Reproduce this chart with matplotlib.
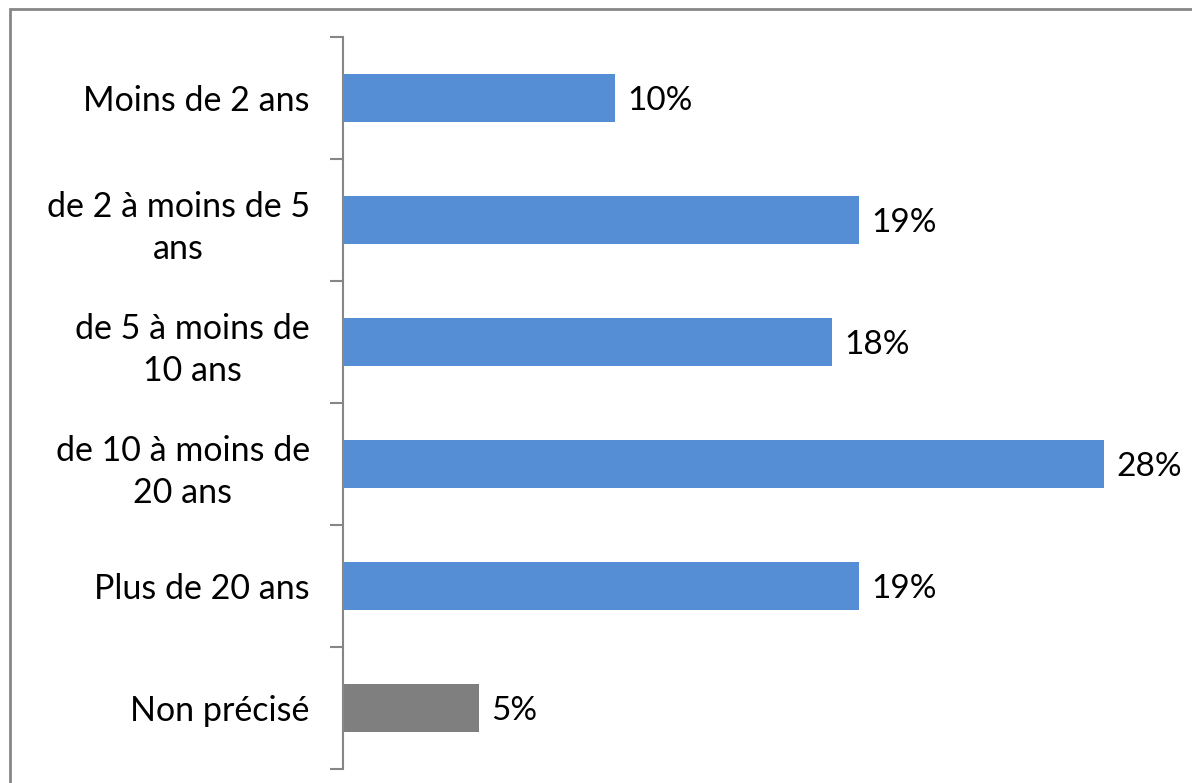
import matplotlib.pyplot as plt
from matplotlib.patches import Rectangle

categories = ['Moins de 2 ans', 'de 2 à moins de 5\nans', 'de 5 à moins de\n10 ans',
              'de 10 à moins de\n20 ans', 'Plus de 20 ans', 'Non précisé']
values = [10, 19, 18, 28, 19, 5]
colors = ['#558ED5'] * 5 + ['#7F7F7F']

plt.rcParams['font.family'] = ['Lato', 'DejaVu Sans']

fig = plt.figure(figsize=(11.92, 7.83), dpi=100)
ax = fig.add_axes([343 / 1192, 1 - 769 / 783, 30 * 27.18 / 1192, 732 / 783])

y = list(range(len(categories)))
ax.barh(y, values, height=0.39, color=colors)
for yi, v in zip(y, values):
    ax.text(v + 0.45, yi, f'{v}%', va='center_baseline', ha='left', fontsize=24)

ax.set_xlim(0, 30)
ax.set_ylim(len(categories) - 0.5, -0.5)
ax.set_yticks(y)
ax.set_yticklabels(categories, fontsize=24.5, multialignment='center', linespacing=1.4)
ax.tick_params(axis='y', which='major', length=0, pad=24)
ax.set_yticks([i - 0.5 for i in range(len(categories) + 1)], minor=True)
ax.tick_params(axis='y', which='minor', length=9.5, width=1.5, color='#868686')
ax.set_xticks([])
for s in ['top', 'right', 'bottom']:
    ax.spines[s].set_visible(False)
ax.spines['left'].set_color('#868686')
ax.spines['left'].set_linewidth(1.5)

fig.patches.append(Rectangle((10 / 1192, -0.1), 1.2, 1 - 9 / 783 + 0.1, transform=fig.transFigure,
                             fill=False, edgecolor='#868686', linewidth=2))

fig.savefig('out.png', dpi=100)
